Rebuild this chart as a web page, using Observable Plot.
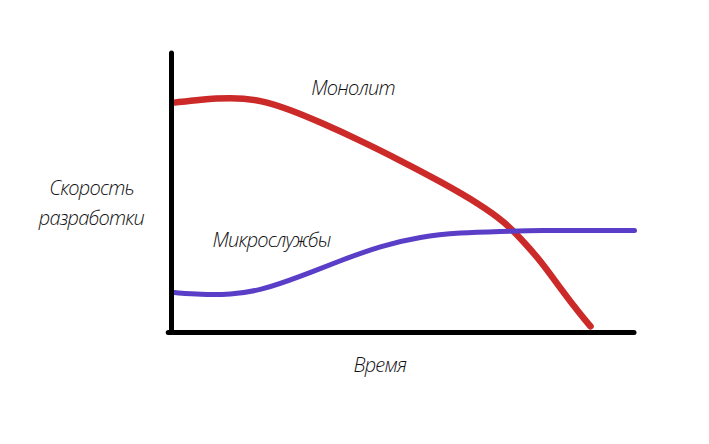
<!DOCTYPE html>
<html><head><meta charset="utf-8">
<script src="https://cdn.jsdelivr.net/npm/d3@7"></script>
<script src="https://cdn.jsdelivr.net/npm/@observablehq/plot@0.6"></script>
<style>body{margin:0;background:#fff}</style>
</head><body><div id="chart"></div>
<script>
const seriesNames = ["Монолит", "Микрослужбы"];
const monolithT = [0.6, 6.3, 12.7, 19.2, 25.7, 32.2, 40.8, 49.5, 58.1, 66.7, 72.1, 75.4, 79.7, 84.0, 88.3, 90.5];
const monolithV = [82.4, 83.5, 84.2, 83.4, 79.8, 75.3, 68.8, 61.6, 54.1, 45.9, 39.4, 33.7, 25.8, 15.8, 6.5, 2.2];
const microT = [0.6, 6.3, 12.7, 19.2, 27.9, 36.5, 45.1, 53.8, 62.4, 71.1, 79.7, 92.7, 100];
const microV = [14.3, 13.6, 13.6, 15.0, 20.1, 25.8, 31.0, 34.4, 35.8, 36.2, 36.6, 36.6, 36.6];
const yLabel = ["Скорость", "разработки"];
const xLabel = "Время";

const mono = monolithT.map((t, i) => ({t, v: monolithV[i]}));
const micro = microT.map((t, i) => ({t, v: microV[i]}));
const font = "'Open Sans', sans-serif";
const txt = {fontSize: 20, fontStyle: "italic", fontWeight: 300, fill: "#111", text: d => d};

const chart = Plot.plot({
  width: 709, height: 444,
  marginLeft: 171, marginRight: 75, marginTop: 53, marginBottom: 112,
  x: {domain: [0, 100], axis: null},
  y: {domain: [0, 100], axis: null},
  style: {fontFamily: font, background: "#fff", letterSpacing: "-0.8px"},
  marks: [
    Plot.line(mono, {x: "t", y: "v", curve: "basis", stroke: "#cc2929", strokeWidth: 6.5, strokeLinecap: "round"}),
    Plot.line(micro, {x: "t", y: "v", curve: "basis", stroke: "#5a3ec8", strokeWidth: 5, strokeLinecap: "round"}),
    Plot.ruleX([0], {y1: 0, y2: 100, stroke: "#000", strokeWidth: 5, strokeLinecap: "round"}),
    Plot.ruleY([0], {x1: -0.6, x2: 100, stroke: "#000", strokeWidth: 5, strokeLinecap: "round"}),
    Plot.text([seriesNames[0]], {...txt, x: 39.2, y: 87.5}),
    Plot.text([seriesNames[1]], {...txt, x: 21.6, y: 33}),
    Plot.text([yLabel.join("\n")], {...txt, x: -17.3, y: 47.5, lineHeight: 1.5}),
    Plot.text([xLabel], {...txt, x: 45, y: -11.8})
  ]
});
document.getElementById("chart").append(chart);
</script></body></html>
